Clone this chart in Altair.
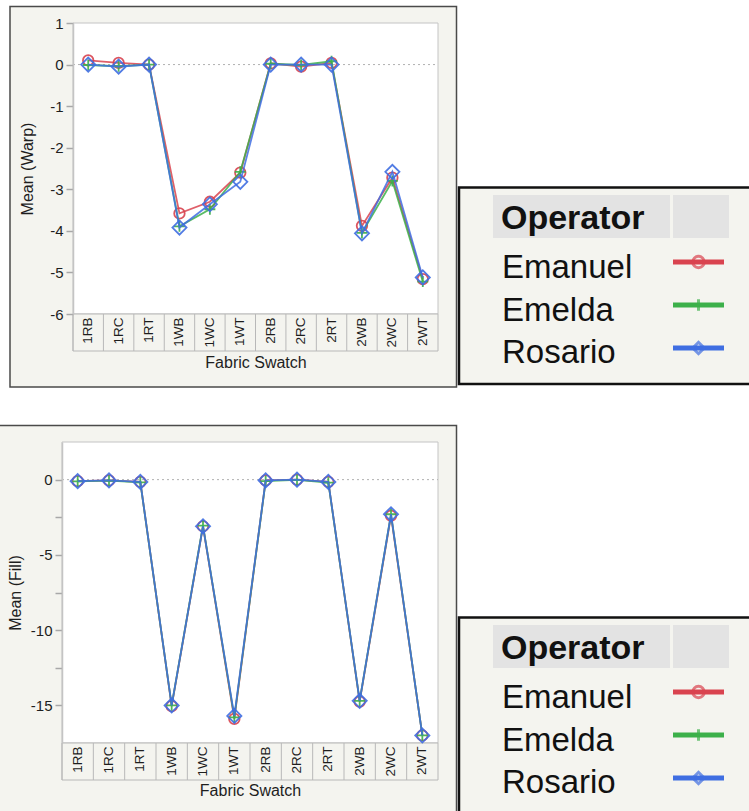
import altair as alt
import pandas as pd

# ---------------- data ----------------
SWATCHES = ["1RB", "1RC", "1RT", "1WB", "1WC", "1WT",
            "2RB", "2RC", "2RT", "2WB", "2WC", "2WT"]
OPERATORS = ["Emanuel", "Emelda", "Rosario"]
COLORS = ["#d9434f", "#3cb04a", "#3f6ee2"]

WARP_EMANUEL = [0.10, 0.04, 0.00, -3.58, -3.30, -2.60, 0.03, -0.05, 0.04, -3.88, -2.72, -5.16]
WARP_EMELDA = [-0.01, -0.04, 0.00, -3.89, -3.48, -2.58, 0.02, -0.01, 0.08, -4.05, -2.80, -5.22]
WARP_ROSARIO = [0.00, -0.05, 0.00, -3.92, -3.36, -2.82, 0.00, 0.00, 0.00, -4.06, -2.58, -5.12]

FILL_EMANUEL = [-0.10, -0.05, -0.15, -15.05, -3.10, -15.90, -0.05, 0.00, -0.15, -14.75, -2.40, -17.00]
FILL_EMELDA = [-0.12, -0.07, -0.18, -15.00, -3.05, -15.80, -0.10, -0.02, -0.20, -14.70, -2.30, -17.00]
FILL_ROSARIO = [-0.10, -0.05, -0.15, -15.00, -3.10, -15.70, -0.05, 0.00, -0.15, -14.70, -2.30, -17.00]

WARP_TICKS = [-6, -5, -4, -3, -2, -1, 0, 1]
FILL_TICKS = [-15, -12.5, -10, -7.5, -5, -2.5, 0]

FONT = "Liberation Sans"
PANEL_BG = "#f4f4ef"
TEXT = "#1e1e1e"


def long_table(series):
    rows = []
    for op, vals in zip(OPERATORS, series):
        for s, v in zip(SWATCHES, vals):
            rows.append({"Operator": op, "Swatch": s, "Mean": v})
    return pd.DataFrame(rows)


warp = long_table([WARP_EMANUEL, WARP_EMELDA, WARP_ROSARIO])
fill = long_table([FILL_EMANUEL, FILL_EMELDA, FILL_ROSARIO])

one = pd.DataFrame({"k": [0]})
zero = pd.DataFrame({"v": [0]})
sw_df = pd.DataFrame({"Swatch": SWATCHES})
op_df = pd.DataFrame({"Operator": OPERATORS})
hdr_df = pd.DataFrame({"t": ["Operator"]})

color_scale = alt.Scale(domain=OPERATORS, range=COLORS)
shape_scale = alt.Scale(domain=OPERATORS, range=["circle", "M-1,0H1M0,-1V1", "diamond"])
SIZES = [110, 120, 200]


def box(x1, x2, y1, y2, fillc, stroke=None, sw=0):
    kw = dict(fill=fillc)
    if stroke:
        kw.update(stroke=stroke, strokeWidth=sw)
    return alt.Chart(one).mark_rect(**kw).encode(
        x=alt.value(x1), x2=alt.value(x2), y=alt.value(y1), y2=alt.value(y2))


def panel(df, frame, px1, px2, py1, py2, cat_bottom, ydomain, ticks, ytitle,
          ytitle_x, xtitle_y, label_expr):
    xs = alt.Scale(type="band", domain=SWATCHES, range=[px1, px2],
                   paddingInner=0, paddingOuter=0)
    ys = alt.Scale(domain=ydomain, range=[py2, py1], nice=False, zero=False)
    layers = []
    fx1, fx2, fy1, fy2 = frame
    layers.append(box(fx1, fx2, fy1, fy2, PANEL_BG, "#4a4a4a", 1.5))
    layers.append(box(px1, px2, py1, py2, "white", "#c4c4c4", 1))
    layers.append(box(px1, px2, py2, cat_bottom, PANEL_BG, "#b8b8b8", 1))
    layers.append(
        alt.Chart(sw_df).mark_rule(color="#b8b8b8", strokeWidth=1).encode(
            x=alt.X("Swatch:N", scale=xs, bandPosition=0, axis=None),
            y=alt.value(py2), y2=alt.value(cat_bottom)))
    layers.append(
        alt.Chart(zero).mark_rule(color="#b0b0b0", strokeWidth=1, strokeDash=[2, 3]).encode(
            y=alt.Y("v:Q", scale=ys, axis=None),
            x=alt.value(px1), x2=alt.value(px2)))
    yaxis = alt.Axis(orient="left", offset=-px1, values=ticks, tickSize=7,
                     tickColor="#a8a8a8", tickWidth=1.5, domain=True,
                     domainColor="#c4c4c4", domainWidth=1.5, grid=False,
                     labelFont=FONT, labelFontSize=15, labelColor=TEXT,
                     labelPadding=3, labelFlush=False, labelExpr=label_expr,
                     title=ytitle, titleFont=FONT, titleFontSize=16,
                     titleFontWeight="normal", titleColor=TEXT,
                     titleX=ytitle_x - px1, titleY=(py1 + py2) / 2,
                     titleAngle=270, titleAlign="center", titleBaseline="middle",
                     zindex=1)
    xaxis = alt.Axis(orient="bottom", offset=py2 - 811, labelAngle=270,
                     labelAlign="right", labelBaseline="middle", labelPadding=3,
                     ticks=False, tickSize=0, domain=False, grid=False,
                     labelFont=FONT, labelFontSize=13.5, labelColor=TEXT,
                     labelOverlap=False,
                     title="Fabric Swatch", titleFont=FONT, titleFontSize=16,
                     titleFontWeight="normal", titleColor=TEXT,
                     titleX=(px1 + px2) / 2, titleY=xtitle_y - py2,
                     titleAlign="center", titleBaseline="middle", zindex=1)
    for i, op in enumerate(OPERATORS):
        base = alt.Chart(df).transform_filter(alt.datum.Operator == op)
        first = i == 0
        layers.append(base.mark_line(strokeWidth=1.8, strokeOpacity=0.85).encode(
            x=alt.X("Swatch:N", scale=xs, sort=SWATCHES, axis=xaxis if first else None),
            y=alt.Y("Mean:Q", scale=ys, axis=yaxis if first else None),
            color=alt.Color("Operator:N", scale=color_scale, legend=None)))
        layers.append(base.mark_point(filled=False, strokeWidth=1.8, size=SIZES[i], opacity=0.9).encode(
            x=alt.X("Swatch:N", scale=xs, sort=SWATCHES, axis=None),
            y=alt.Y("Mean:Q", scale=ys, axis=None),
            color=alt.Color("Operator:N", scale=color_scale, legend=None),
            shape=alt.Shape("Operator:N", scale=shape_scale, legend=None)))
    return layers


def legend(dy):
    layers = []
    layers.append(box(459, 770, 187.5 + dy, 384 + dy, PANEL_BG, "#111111", 2.5))
    layers.append(box(493, 670, 195 + dy, 238 + dy, "#e3e3e3"))
    layers.append(box(673, 729, 195 + dy, 238 + dy, "#e3e3e3"))
    layers.append(alt.Chart(hdr_df).mark_text(
        align="left", baseline="alphabetic", font=FONT, fontWeight="bold",
        fontSize=34, color="#111111").encode(
        x=alt.value(501), y=alt.value(229 + dy), text="t:N"))
    ty = alt.Scale(type="point", domain=OPERATORS, range=[278 + dy, 363 + dy], padding=0)
    layers.append(alt.Chart(op_df).mark_text(
        align="left", baseline="alphabetic", font=FONT, fontSize=33,
        color="#111111").encode(
        x=alt.value(502), y=alt.Y("Operator:N", scale=ty, axis=None),
        text="Operator:N"))
    sy = alt.Scale(type="point", domain=OPERATORS, range=[262 + dy, 348 + dy], padding=0)
    layers.append(alt.Chart(op_df).mark_rule(strokeWidth=5).encode(
        x=alt.value(673), x2=alt.value(724),
        y=alt.Y("Operator:N", scale=sy, axis=None),
        color=alt.Color("Operator:N", scale=color_scale, legend=None)))
    layers.append(alt.Chart(op_df).mark_point(filled=False, strokeWidth=3, size=130).encode(
        x=alt.value(698.5),
        y=alt.Y("Operator:N", scale=sy, axis=None),
        color=alt.Color("Operator:N", scale=color_scale, legend=None),
        shape=alt.Shape("Operator:N", scale=shape_scale, legend=None)))
    return layers


layers = []
layers += panel(warp, (10, 456.5, 6.5, 387), 73, 438, 23, 314, 351, [-6, 1],
                WARP_TICKS, "Mean (Warp)", 27.5, 362, "'' + datum.value")
layers += legend(0)
layers += panel(fill, (-2, 456.5, 425.5, 830), 62, 438, 442, 743, 780, [-17.5, 2.5],
                FILL_TICKS, "Mean (Fill)", 15, 790,
                "datum.value % 5 == 0 ? '' + datum.value : ''")
layers += legend(430)

chart = alt.layer(*layers).resolve_scale(
    x="independent", y="independent"
).properties(
    width=749, height=811, autosize=alt.AutoSizeParams(type="none"),
    padding=0, background="white"
).configure_view(strokeWidth=0)

chart.save("out.html", embed_options={"renderer": "svg", "actions": False})
